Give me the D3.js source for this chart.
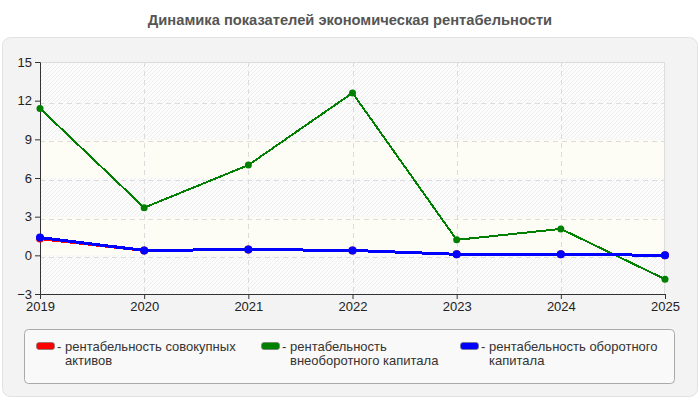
<!DOCTYPE html>
<html>
<head>
<meta charset="utf-8">
<script src="https://cdn.jsdelivr.net/npm/d3@7"></script>
<style>
  body { margin: 0; background: #fff; }
  svg { display: block; font-family: "Liberation Sans", Arial, sans-serif; }
</style>
</head>
<body>
<div id="chart"></div>
<script>
// data
const years = ["2019", "2020", "2021", "2022", "2023", "2024", "2025"];
const totalAssets = [1.3, 0.38, 0.45, 0.38, 0.08, 0.08, 0.0];
const nonCurrent = [11.4, 3.7, 7.0, 12.6, 1.2, 2.05, -1.85];
const working = [1.38, 0.38, 0.45, 0.38, 0.08, 0.08, 0.0];
const yTicks = [-3, 0, 3, 6, 9, 12, 15];
const seriesNames = ["рентабельность совокупных активов", "рентабельность внеоборотного капитала", "рентабельность оборотного капитала"];
const seriesColors = ["#ff0000", "#008000", "#0000ff"];

const W = 700, H = 400;
const margin = {top: 62, right: 35, bottom: 106, left: 40};
const width = W - margin.left - margin.right,
      height = H - margin.top - margin.bottom;

const svg = d3.select("#chart").append("svg")
  .attr("width", W).attr("height", H);

// hatch pattern for bands
const defs = svg.append("defs");
const pat = defs.append("pattern")
  .attr("id", "hatch")
  .attr("patternUnits", "userSpaceOnUse")
  .attr("width", 4).attr("height", 4);
pat.append("rect").attr("width", 4).attr("height", 4).attr("fill", "#fcfcfc");
pat.append("path").attr("d", "M0,4 L4,0 M-1,1 L1,-1 M3,5 L5,3")
  .attr("stroke", "#eeeeee").attr("stroke-width", 1);

// title
svg.append("text")
  .attr("x", W / 2).attr("y", 25)
  .attr("text-anchor", "middle")
  .style("font-size", "14.7px").style("font-weight", "bold")
  .attr("fill", "#555")
  .text("Динамика показателей экономическая рентабельности");

// outer panel
svg.append("rect")
  .attr("x", 2.5).attr("y", 37.5).attr("width", 695).attr("height", 359)
  .attr("rx", 8)
  .attr("fill", "#f3f3f3").attr("stroke", "#e2e2e2");

const g = svg.append("g").attr("transform", `translate(${margin.left},${margin.top})`);

const x = d3.scalePoint().domain(years).range([0, width]);
const y = d3.scaleLinear().domain([-3, 15]).range([height, 0]);

// background bands
const bands = d3.pairs(yTicks);
g.selectAll(".band").data(bands).enter().append("rect")
  .attr("x", 0).attr("width", width)
  .attr("y", d => y(d[1])).attr("height", d => y(d[0]) - y(d[1]))
  .attr("fill", (d, i) => (i % 2 === 0 || i === bands.length - 1) ? "url(#hatch)" : "#fdfdf6");

// grid
g.selectAll(".hgrid").data(yTicks.slice(1, -1)).enter().append("line")
  .attr("x1", 0).attr("x2", width)
  .attr("y1", d => Math.round(y(d)) + 2.5).attr("y2", d => Math.round(y(d)) + 2.5)
  .attr("stroke", "#dcdcdc").attr("stroke-dasharray", "5,4");
g.selectAll(".vgrid").data(years.slice(1, -1)).enter().append("line")
  .attr("y1", 0).attr("y2", height)
  .attr("x1", d => Math.round(x(d)) + 0.5).attr("x2", d => Math.round(x(d)) + 0.5)
  .attr("stroke", "#dcdcdc").attr("stroke-dasharray", "5,4");

// top/right frame
g.append("path")
  .attr("d", `M0,0.5 H${width - 0.5} V${height}`)
  .attr("fill", "none").attr("stroke", "#dddddd");

// axes
const yAxis = g.append("g").call(d3.axisLeft(y).tickValues(yTicks).tickSize(5).tickPadding(3));
const xAxis = g.append("g").attr("transform", `translate(0,${height})`)
  .call(d3.axisBottom(x).tickSize(5).tickPadding(3));
[xAxis, yAxis].forEach(a => {
  a.select(".domain").attr("stroke", "#333");
  a.selectAll(".tick line").attr("stroke", "#333");
  a.selectAll("text").style("font-size", "13px").attr("fill", "#222")
    .style("font-family", "'Liberation Sans', Arial, sans-serif");
});

// lines
const line = d3.line().x((d, i) => x(years[i])).y(d => y(d));
const allSeries = [
  {values: totalAssets, color: seriesColors[0], w: 3, r: 4},
  {values: nonCurrent, color: seriesColors[1], w: 2, r: 3.5},
  {values: working, color: seriesColors[2], w: 3, r: 4}
];
allSeries.forEach(s => {
  g.append("path").datum(s.values)
    .attr("d", line)
    .attr("fill", "none").attr("stroke", s.color).attr("stroke-width", s.w)
    .attr("shape-rendering", "crispEdges");
  g.selectAll(null).data(s.values).enter().append("circle")
    .attr("cx", (d, i) => x(years[i])).attr("cy", d => y(d))
    .attr("r", s.r).attr("fill", s.color);
});

// legend
svg.append("rect")
  .attr("x", 24.5).attr("y", 329.5).attr("width", 650).attr("height", 54)
  .attr("rx", 4)
  .attr("fill", "#f9f9f9").attr("stroke", "#aaaaaa");

const legendX = [36, 261, 460];
seriesNames.forEach((name, i) => {
  const lg = svg.append("g").attr("transform", `translate(${legendX[i]},0)`);
  lg.append("rect")
    .attr("x", 0.5).attr("y", 342.5).attr("width", 18).attr("height", 7)
    .attr("rx", 2.5)
    .attr("fill", seriesColors[i]).attr("stroke", "#777").attr("stroke-width", 0.7);
  const t = lg.append("text").attr("y", 351)
    .style("font-size", "13px").attr("fill", "#333");
  t.append("tspan").attr("x", 21).text("-");
  // wrap words
  const words = name.split(" ");
  let lineWords = [];
  let tspan = t.append("tspan").attr("x", 29);
  words.forEach(w => {
    lineWords.push(w);
    tspan.text(lineWords.join(" "));
    if (tspan.node().getComputedTextLength() > 180 && lineWords.length > 1) {
      lineWords.pop();
      tspan.text(lineWords.join(" "));
      lineWords = [w];
      tspan = t.append("tspan").attr("x", 29).attr("dy", 14).text(w);
    }
  });
});
</script>
</body>
</html>
